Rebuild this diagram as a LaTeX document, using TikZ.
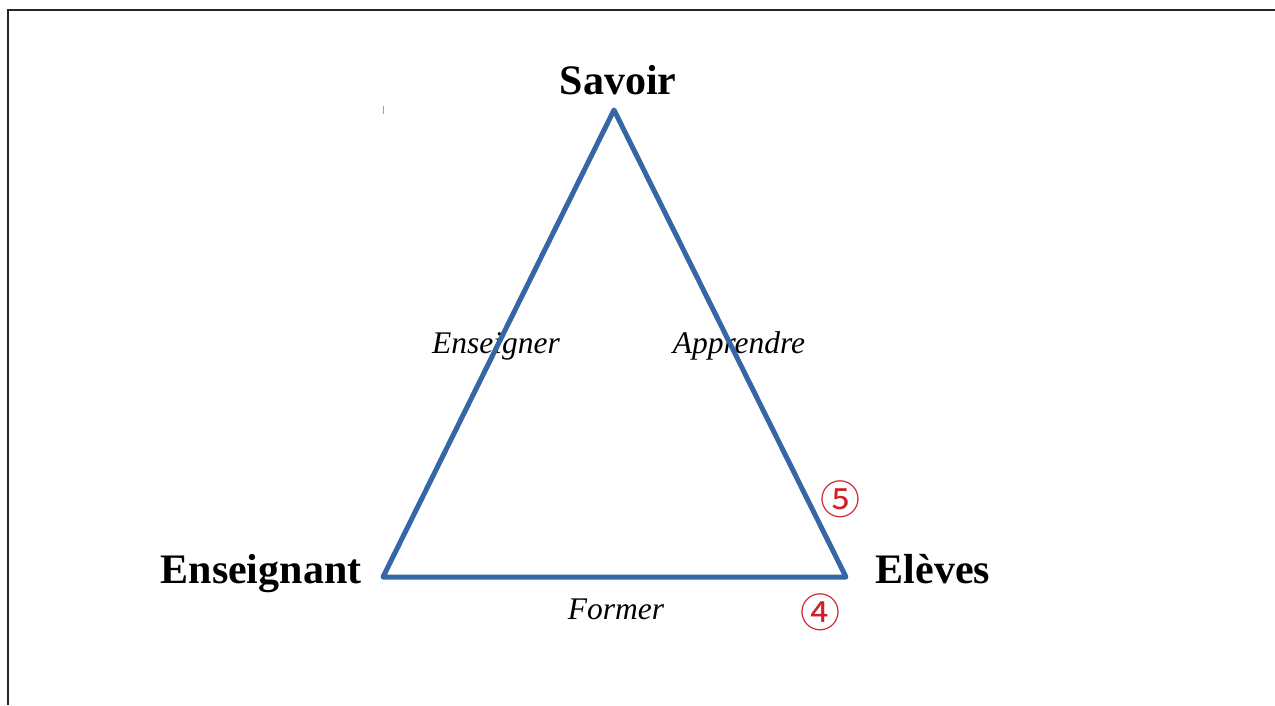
\documentclass[tikz,border=0pt]{standalone}
\usepackage{fontspec}
\setmainfont{Liberation Serif}
\newfontfamily\circfont{Noto Sans CJK JP}
\begin{document}
\begin{tikzpicture}[x=1pt,y=-1pt,
  vertexlabel/.style={font=\fontsize{42}{42}\selectfont\bfseries, anchor=base, inner sep=0pt},
  edgelabel/.style={font=\fontsize{31.5}{31.5}\selectfont\itshape, anchor=base, inner sep=0pt},
  marker/.style={font=\circfont\fontsize{40}{40}\selectfont, text=markred, inner sep=0pt},
  tri/.style={draw=triblue, line width=5pt, line join=round, line cap=round},
  frame/.style={draw=black!85, line width=1.2pt}]
\definecolor{triblue}{HTML}{3566A5}
\definecolor{markred}{HTML}{D0202A}
\useasboundingbox (0,0) rectangle (1275,705);
\fill[white] (0,0) rectangle (1275,705);
% frame
\coordinate (fTR) at (1275,10);
\coordinate (fTL) at (8,10);
\coordinate (fBL) at (8,705);
\draw[frame] (fTR) -- (fTL) -- (fBL);
% small tick
\coordinate (t1) at (383,106);
\coordinate (t2) at (383,114);
\draw[triblue!60, line width=1pt] (t1) -- (t2);
% vertices
\coordinate (S) at (614,110);
\coordinate (E) at (383,577);
\coordinate (L) at (846,577);
% labels
\node[vertexlabel] (savoir) at (618,94) {Savoir};
\node[vertexlabel] (ens) at (261,583) {Enseignant};
\node[vertexlabel] (eleves) at (933,583) {Elèves};
\node[edgelabel] (enseigner) at (496,353) {Enseigner};
\node[edgelabel] (apprendre) at (739,353) {Apprendre};
\node[edgelabel] (former) at (616,619) {Former};
% triangle
\draw[tri] (S) -- (E) -- (L) -- cycle;
% markers
\node[marker] (m5) at (840,499) {⑤};
\node[marker] (m4) at (820,612) {④};
\end{tikzpicture}
\end{document}
